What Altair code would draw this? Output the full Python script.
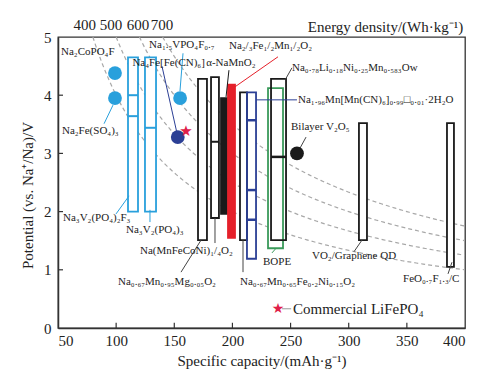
import altair as alt
import pandas as pd

FONT = "Liberation Serif"
LB = "#29a0dc"     # light blue
NAVY = "#2b3f95"
BLACK = "#1a1a1a"
RED = "#e5202a"
GREEN = "#3a9a5a"
WHITE = "#ffffff"

# ---- iso-energy density curves (Wh/kg) ----
energy_levels = [400, 500, 600, 700]
energy_label_cap = [73, 95.6, 118.8, 139.4]

# ---- single-point materials ----
pt_names = ["Na₂CoPO₄F", "Na₂Fe(SO₄)₃", "Na₁.₅VPO₄F₀.₇", "Na₄Fe[Fe(CN)₆]", "Bilayer V₂O₅"]
pt_cap = [99, 99, 155, 153, 255.5]
pt_pot = [4.38, 3.95, 3.95, 3.28, 3.0]
pt_color = [LB, LB, LB, NAVY, BLACK]

# commercial LiFePO4 reference
star_cap = [160]
star_pot = [3.38]

# ---- voltage-range boxes ----
box_names = ["Na₃V₂(PO₄)₂F₃", "Na₃V₂(PO₄)₃", "Na₀.₆₇Mn₀.₉₅Mg₀.₀₅O₂", "Na(MnFeCoNi)₁/₄O₂",
             "α-NaMnO₂", "Na₂/₃Fe₁/₂Mn₁/₂O₂", "Na₀.₆₇Mn₀.₆₅Fe₀.₂Ni₀.₁₅O₂",
             "Na₁.₉₆Mn[Mn(CN)₆]₀.₉₉□₀.₀₁·2H₂O", "BOPE", "Na₀.₇₈Li₀.₁₈Ni₀.₂₅Mn₀.₅₈₃Ow",
             "VO₂/Graphene QD", "FeO₀.₇F₁.₃/C"]
box_c0 = [110.2, 124.8, 170.4, 181.6, 190.2, 196.2, 206.5, 212.5, 230.6, 233.2, 308.8, 384.5]
box_c1 = [118.8, 134.3, 178.1, 188.4, 195.3, 202.2, 212.5, 220.3, 243.5, 246.1, 315.7, 390.5]
box_v0 = [2.0, 2.0, 1.51, 1.89, 1.96, 1.55, 1.51, 1.19, 1.37, 1.51, 1.51, 1.05]
box_v1 = [4.65, 4.65, 4.28, 4.31, 3.95, 4.18, 4.05, 4.05, 4.12, 4.28, 3.52, 3.52]
box_stroke = [LB, LB, BLACK, BLACK, BLACK, RED, BLACK, NAVY, GREEN, BLACK, BLACK, BLACK]
box_fill = [WHITE, WHITE, WHITE, WHITE, BLACK, RED, WHITE, WHITE, WHITE, WHITE, WHITE, WHITE]

# average-potential marks inside boxes
avg_box = [0, 0, 1, 3, 7, 7, 7, 9]
avg_pot = [4.0, 3.64, 3.44, 3.2, 3.57, 2.37, 1.86, 2.94]
avg_width = [2, 2, 2, 2, 2.5, 2.5, 2.5, 2.5]

# ---- annotation labels (anchor in data units) ----
lab_text = ["Na₂CoPO₄F", "Na₂Fe(SO₄)₃", "Na₃V₂(PO₄)₂F₃", "Na₃V₂(PO₄)₃", "Na₁.₅VPO₄F₀.₇",
            "Na₄Fe[Fe(CN)₆]", "α-NaMnO₂", "Na₂/₃Fe₁/₂Mn₁/₂O₂", "Na₀.₇₈Li₀.₁₈Ni₀.₂₅Mn₀.₅₈₃Ow",
            "Na₁.₉₆Mn[Mn(CN)₆]₀.₉₉□₀.₀₁·2H₂O", "Bilayer V₂O₅", "VO₂/Graphene QD",
            "FeO₀.₇F₁.₃/C", "BOPE", "Na(MnFeCoNi)₁/₄O₂", "Na₀.₆₇Mn₀.₉₅Mg₀.₀₅O₂",
            "Na₀.₆₇Mn₀.₆₅Fe₀.₂Ni₀.₁₅O₂"]
lab_cap = [52.6, 53.4, 54.3, 108.5, 128.3, 114.0, 177.4, 197.0, 251.2, 256.4, 250.4, 268.4,
           346.7, 226.3, 120.5, 101.6, 206.5]
lab_pot = [4.74, 3.38, 1.89, 1.68, 4.86, 4.55, 4.55, 4.85, 4.47, 3.92, 3.45, 1.24,
           0.84, 1.13, 1.32, 0.79, 0.79]

# leader lines
lead_c0 = [89.6, 99.9, 129.1, 157.5, 139.4, 197.0, 239.2, 251.2, 220.3, 263.3, 304.5, 385.4, 234.0, 185.0, 155.8, 209.1]
lead_v0 = [3.51, 1.96, 1.82, 4.72, 4.50, 4.43, 4.66, 4.47, 3.92, 3.28, 1.31, 0.93, 1.29, 1.89, 0.96, 1.51]
lead_c1 = [97.3, 111.1, 129.1, 154.9, 152.3, 194.5, 200.5, 245.5, 255.5, 258.1, 311.4, 388.8, 237.5, 185.0, 173.0, 209.1]
lead_v1 = [3.83, 2.27, 2.03, 4.07, 3.35, 3.97, 4.12, 4.27, 3.92, 3.09, 1.51, 1.13, 1.37, 1.46, 1.51, 0.96]
lead_color = [LB, LB, LB, LB, NAVY, BLACK, RED, "#444444", NAVY, "#444444", "#444444",
              "#444444", GREEN, "#444444", "#444444", "#444444"]

x_ticks = [50, 100, 150, 200, 250, 300, 350, 400]
y_ticks = [0, 1, 2, 3, 4, 5]

xs = alt.Scale(domain=[50, 400], nice=False, zero=False)
ys = alt.Scale(domain=[0, 5], nice=False, zero=False)

# ---------------- layers ----------------
curves = alt.Chart(pd.DataFrame({"E": energy_levels})).transform_calculate(
    C="sequence(datum.E / 5, 400.5, 2)"
).transform_flatten(["C"]).transform_calculate(
    V="datum.E / datum.C"
).mark_line(color="#a8a8a8", strokeDash=[4, 3], strokeWidth=1.2).encode(
    x=alt.X("C:Q", scale=xs, axis=alt.Axis(
        values=x_ticks, format="d", title="Specific capacity/(mAh·g⁻¹)", ticks=False,
        labelPadding=5, titlePadding=5, grid=False)),
    y=alt.Y("V:Q", scale=ys, axis=alt.Axis(
        values=y_ticks, format="d", title="Potential (vs. Na⁺/Na)/V", ticks=False,
        labelPadding=7, titlePadding=8, grid=False, titleY=158)),
    detail="E:N",
    order="C:Q",
)

boxes_df = pd.DataFrame({"name": box_names, "c0": box_c0, "c1": box_c1, "v0": box_v0,
                         "v1": box_v1, "stroke": box_stroke, "fill": box_fill})

box_fill_layer = alt.Chart(boxes_df).mark_rect(strokeWidth=0).encode(
    x=alt.X("c0:Q", scale=xs), x2="c1:Q", y=alt.Y("v0:Q", scale=ys), y2="v1:Q",
    fill=alt.Fill("fill:N", scale=None),
)
box_line_layer = alt.Chart(boxes_df).mark_rect(filled=False, strokeWidth=1.8).encode(
    x=alt.X("c0:Q", scale=xs), x2="c1:Q", y=alt.Y("v0:Q", scale=ys), y2="v1:Q",
    stroke=alt.Stroke("stroke:N", scale=None),
)

avg_df = pd.DataFrame({
    "c0": [box_c0[i] for i in avg_box], "c1": [box_c1[i] for i in avg_box],
    "v": avg_pot, "color": [box_stroke[i] for i in avg_box], "w": avg_width})
avg_layer = alt.Chart(avg_df).mark_rule().encode(
    x=alt.X("c0:Q", scale=xs), x2="c1:Q", y=alt.Y("v:Q", scale=ys),
    color=alt.Color("color:N", scale=None), strokeWidth=alt.StrokeWidth("w:Q", scale=None),
)

lead_df = pd.DataFrame({"c0": lead_c0, "v0": lead_v0, "c1": lead_c1, "v1": lead_v1, "color": lead_color})
lead_layer = alt.Chart(lead_df).mark_rule(strokeWidth=1).encode(
    x=alt.X("c0:Q", scale=xs), x2="c1:Q", y=alt.Y("v0:Q", scale=ys), y2="v1:Q",
    color=alt.Color("color:N", scale=None),
)

pts_df = pd.DataFrame({"name": pt_names, "c": pt_cap, "v": pt_pot, "color": pt_color})
pts_layer = alt.Chart(pts_df).mark_circle(size=190, opacity=1).encode(
    x=alt.X("c:Q", scale=xs), y=alt.Y("v:Q", scale=ys), color=alt.Color("color:N", scale=None),
)

star_df = pd.DataFrame({"c": star_cap, "v": star_pot, "s": ["★"]})
star_layer = alt.Chart(star_df).mark_text(fontSize=15, color="#e0204a", font="DejaVu Sans").encode(
    x=alt.X("c:Q", scale=xs), y=alt.Y("v:Q", scale=ys), text="s:N",
)

lab_df = pd.DataFrame({"t": lab_text, "c": lab_cap, "v": lab_pot})
lab_layer = alt.Chart(lab_df).mark_text(align="left", baseline="middle", fontSize=11,
                                        font=FONT, color="#222222").encode(
    x=alt.X("c:Q", scale=xs), y=alt.Y("v:Q", scale=ys), text="t:N",
)

# legend for commercial LiFePO4
leg_df = pd.DataFrame({"c": [239.2], "v": [0.33], "s": ["★"]})
leg_star = alt.Chart(leg_df).mark_text(fontSize=14, color="#e0204a", font="DejaVu Sans").encode(
    x=alt.X("c:Q", scale=xs), y=alt.Y("v:Q", scale=ys), text="s:N")
leg_line = alt.Chart(pd.DataFrame({"c0": [242.5], "c1": [250.5], "v": [0.33]})).mark_rule(
    color="#999999", strokeWidth=1).encode(
    x=alt.X("c0:Q", scale=xs), x2="c1:Q", y=alt.Y("v:Q", scale=ys))
leg_text = alt.Chart(pd.DataFrame({"c": [252.1], "v": [0.33], "t": ["Commercial LiFePO₄"]})).mark_text(
    align="left", baseline="middle", fontSize=15, font=FONT, color="#222222").encode(
    x=alt.X("c:Q", scale=xs), y=alt.Y("v:Q", scale=ys), text="t:N")

# energy density labels above plot
top_df = pd.DataFrame({"c": energy_label_cap, "v": [5.2] * 4, "t": [str(e) for e in energy_levels]})
top_layer = alt.Chart(top_df).mark_text(fontSize=15, font=FONT, color="#222222", baseline="middle").encode(
    x=alt.X("c:Q", scale=xs), y=alt.Y("v:Q", scale=ys), text="t:N")
ed_layer = alt.Chart(pd.DataFrame({"c": [398.5], "v": [5.18], "t": ["Energy density/(Wh·kg⁻¹)"]})).mark_text(
    align="right", baseline="middle", fontSize=15, font=FONT, color="#222222").encode(
    x=alt.X("c:Q", scale=xs), y=alt.Y("v:Q", scale=ys), text="t:N")

# inward ticks
xt_df = pd.DataFrame({"c": x_ticks[1:-1]})
xt_layer = alt.Chart(xt_df).transform_calculate(v0="0", v1="0.09").mark_rule(
    color="#333333", strokeWidth=1.2).encode(
    x=alt.X("c:Q", scale=xs), y=alt.Y("v0:Q", scale=ys), y2="v1:Q")
yt_df = pd.DataFrame({"v": y_ticks[1:-1]})
yt_layer = alt.Chart(yt_df).transform_calculate(c0="50", c1="54.3").mark_rule(
    color="#333333", strokeWidth=1.2).encode(
    x=alt.X("c0:Q", scale=xs), x2="c1:Q", y=alt.Y("v:Q", scale=ys))

chart = alt.layer(
    curves, box_fill_layer, box_line_layer, avg_layer, lead_layer, pts_layer, star_layer,
    lab_layer, leg_line, leg_star, leg_text, top_layer, ed_layer, xt_layer, yt_layer
).properties(
    width=407, height=291,
    padding={"left": 58, "top": 37, "right": 19, "bottom": 46},
    autosize=alt.AutoSizeParams(type="none"),
).configure_view(
    stroke="#333333", strokeWidth=1.3
).configure_axis(
    labelFont=FONT, titleFont=FONT, labelFontSize=15, titleFontSize=15,
    labelColor="#222222", titleColor="#222222", titleFontWeight="normal",
    domainColor="#333333", domainWidth=1.5,
)

chart.save("out.html", embed_options={"renderer": "svg", "actions": False})
